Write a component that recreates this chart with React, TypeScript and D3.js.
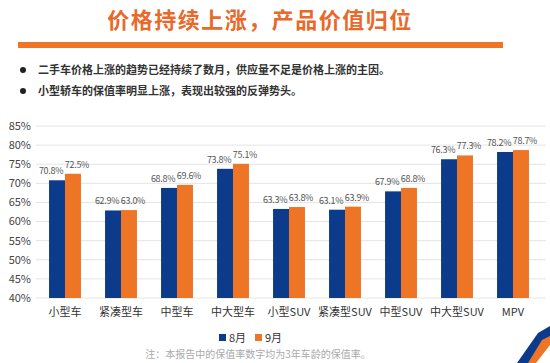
import * as d3 from 'd3'

const categories = ['小型车', '紧凑型车', '中型车', '中大型车', '小型SUV', '紧凑型SUV', '中型SUV', '中大型SUV', 'MPV']
const aug = [70.8, 62.9, 68.8, 73.8, 63.3, 63.1, 67.9, 76.3, 78.2]
const sep = [72.5, 63.0, 69.6, 75.1, 63.8, 63.9, 68.8, 77.3, 78.7]
const seriesNames = ['8月', '9月']
const yTicks = [40, 45, 50, 55, 60, 65, 70, 75, 80, 85]
const bullets = [
  '二手车价格上涨的趋势已经持续了数月，供应量不足是价格上涨的主因。',
  '小型轿车的保值率明显上涨，表现出较强的反弹势头。',
]

const BLUE = '#0D3B8C'
const ORANGE = '#EE7526'
const FONT = '"Noto Sans CJK SC", "Noto Sans", sans-serif'

const W = 550
const H = 363
const MARGIN = { top: 126, right: 9, bottom: 65, left: 37 }

export default function App() {
  const innerW = W - MARGIN.left - MARGIN.right
  const innerH = H - MARGIN.top - MARGIN.bottom

  const x = d3.scaleBand().domain(categories).range([0, innerW]).paddingInner(0.43).paddingOuter(0.215)
  const sub = d3.scaleBand().domain(seriesNames).range([0, x.bandwidth()])
  const y = d3.scaleLinear().domain([40, 85]).range([innerH, 0])
  const series = [aug, sep]
  const colors = [BLUE, ORANGE]
  const labelDx = [-6, 4]

  return (
    <svg width={W} height={H} style={{ position: 'absolute', left: 0, top: 0, background: '#fff', fontFamily: FONT }}>
      {/* title */}
      <text x={260} y={28} textAnchor="middle" fill="#E8692A" fontSize={22} fontWeight="bold" letterSpacing={1.5}>
        价格持续上涨，产品价值归位
      </text>
      <rect x={18} y={42} width={485} height={6} fill="#EE7526" />

      {bullets.map((b, i) => (
        <g key={i}>
          <circle cx={23} cy={70 + i * 21} r={3} fill="#222" />
          <text x={38} y={74 + i * 21} fontSize={11} fontWeight="bold" fill="#333">{b}</text>
        </g>
      ))}

      <g transform={`translate(${MARGIN.left}, ${MARGIN.top})`}>
        {yTicks.map(t => (
          <g key={t}>
            <line x1={-1} x2={innerW + 5} y1={y(t)} y2={y(t)} stroke="#e4e4e4" strokeWidth={1} />
            <text x={-6} y={y(t)} dy="0.35em" textAnchor="end" fontSize={11} fill="#444">{t}%</text>
          </g>
        ))}

        {categories.map((c, i) => (
          <g key={c} transform={`translate(${x(c)}, 0)`}>
            {series.map((s, j) => {
              const bx = sub(seriesNames[j])!
              return (
                <g key={j}>
                  <rect x={bx} y={y(s[i])} width={sub.bandwidth()} height={innerH - y(s[i])} fill={colors[j]} />
                  <text
                    x={bx + sub.bandwidth() / 2 + labelDx[j]}
                    y={y(s[i]) - 6}
                    textAnchor="middle"
                    fontSize={9}
                    letterSpacing={-0.3}
                    fill="#555"
                  >
                    {s[i].toFixed(1)}%
                  </text>
                </g>
              )
            })}
            <text x={x.bandwidth() / 2} y={innerH + 18} textAnchor="middle" fontSize={11} fill="#333">{c}</text>
          </g>
        ))}
      </g>

      {/* legend */}
      {seriesNames.map((n, i) => (
        <g key={n} transform={`translate(${219 + i * 36}, 338)`}>
          <rect x={0} y={-4} width={7} height={7} fill={colors[i]} />
          <text x={10} y={0} dy="0.35em" fontSize={11} fill="#333">{n}</text>
        </g>
      ))}

      <text x={258} y={358} textAnchor="middle" fontSize={10} fill="#aaa">
        注：本报告中的保值率数字均为3年车龄的保值率。
      </text>

      {/* corner decoration */}
      <polygon points="538,333 550,326 550,339 531,363 517,363" fill={BLUE} />
      <polygon points="542,340 550,336 550,345 536,363 528,363" fill={ORANGE} />
    </svg>
  )
}
